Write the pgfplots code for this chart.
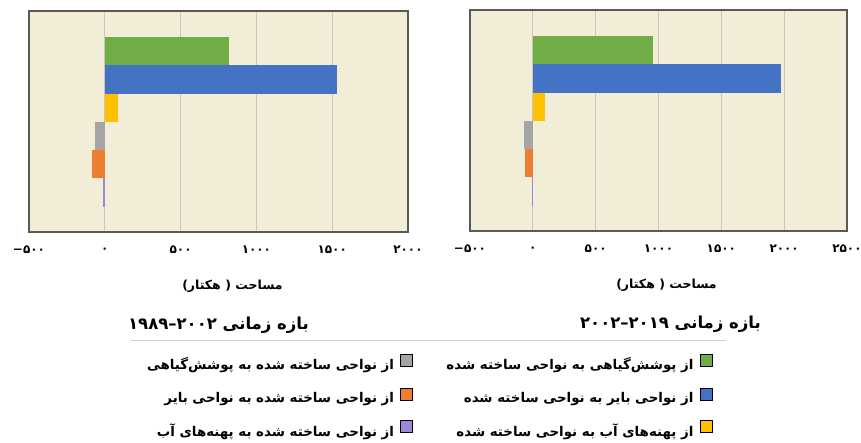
\documentclass[border=0pt]{standalone}
\usepackage{fontspec}
\usepackage{pgfplots}
\pgfplotsset{compat=1.18}
\TeXXeTstate=1
\newfontfamily\arabicfont[Script=Arabic]{DejaVu Sans}
\newcommand\fa{\arabicfont\bfseries}
\definecolor{cgreen}{HTML}{70AD47}
\definecolor{cblue}{HTML}{4472C4}
\definecolor{cyellow}{HTML}{FFC000}
\definecolor{cgray}{HTML}{A5A5A5}
\definecolor{corange}{HTML}{ED7D31}
\definecolor{cpurple}{HTML}{9B87D9}
\definecolor{bg}{HTML}{F2EDD7}
\definecolor{gridc}{HTML}{C9C7BC}
\definecolor{framec}{HTML}{5A5A52}
\pgfplotsset{
  panel/.style={
    scale only axis, anchor=south west, height=221pt,
    axis background/.style={fill=bg},
    axis line style={framec, line width=1.3pt},
    xmajorgrids, grid style={gridc, line width=0.8pt},
    major tick length=0pt, ytick=\empty,
    y dir=reverse, ymin=-0.42, ymax=7.4,
    xticklabel style={font=\fa\fontsize{12}{14}\selectfont, anchor=center, yshift=-18pt},
    xlabel style={font=\fa\fontsize{12.5}{15}\selectfont, at={(axis description cs:0.5,0)}, anchor=center, yshift=-54pt},
    title style={font=\fa\fontsize{16.5}{19}\selectfont, at={(axis description cs:0.5,0)}, anchor=center, yshift=-99pt},
    xlabel={\beginR مساحت ( هکتار)\endR},
  },
  bar/.style={xbar, bar shift=0pt, bar width=1, draw=none, forget plot},
}
\begin{document}
\begin{tikzpicture}
\path[use as bounding box] (0,0) rectangle (861pt,443pt);
% left panel 1989-2002
\begin{axis}[panel, at={(29pt,211pt)}, width=379pt,
  xmin=-500, xmax=2000, xtick={-500,0,500,1000,1500,2000},
  xticklabels={{\hbox{−}\hbox{۵۰۰}},۰,۵۰۰,۱۰۰۰,۱۵۰۰,۲۰۰۰},
  xlabel style={xshift=14pt},
  title={\beginR بازه زمانی \beginL\hbox{۱۹۸۹}\hbox{–}\hbox{۲۰۰۲}\endL\endR}]
\addplot[bar, fill=cgreen] coordinates {(816,1)};
\addplot[bar, fill=cblue] coordinates {(1533,2)};
\addplot[bar, fill=cyellow] coordinates {(86,3)};
\addplot[bar, fill=cgray] coordinates {(-63,4)};
\addplot[bar, fill=corange] coordinates {(-86,5)};
\addplot[bar, fill=cpurple] coordinates {(-12,6)};
\end{axis}
% right panel 2002-2019
\begin{axis}[panel, at={(470pt,212pt)}, width=377pt,
  xmin=-500, xmax=2500, xtick={-500,0,500,1000,1500,2000,2500},
  xticklabels={{\hbox{−}\hbox{۵۰۰}},۰,۵۰۰,۱۰۰۰,۱۵۰۰,۲۰۰۰,۲۵۰۰},
  xlabel style={xshift=8pt}, title style={xshift=12pt},
  title={\beginR بازه زمانی \beginL\hbox{۲۰۰۲}\hbox{–}\hbox{۲۰۱۹}\endL\endR},
  legend columns=2, legend plot pos=right, legend cell align=right,
  legend image code/.code={\fill[#1] (0pt,-2pt) rectangle (12pt,10pt);},
  legend style={name=leg, draw=none, fill=none, at={(axis description cs:-0.1101,-0.4932)}, anchor=north,
    font=\fa\fontsize{13.4}{16}\selectfont, inner xsep=13.5pt, inner ysep=14pt,
    column sep=4pt, /tikz/every even column/.append style={column sep=32pt},
    row sep=14.5pt},
  ]
\addplot[bar, fill=cgreen] coordinates {(955,1)};
\addplot[bar, fill=cblue] coordinates {(1974,2)};
\addplot[bar, fill=cyellow] coordinates {(93,3)};
\addplot[bar, fill=cgray] coordinates {(-72,4)};
\addplot[bar, fill=corange] coordinates {(-61,5)};
\addplot[bar, fill=cpurple] coordinates {(-10,6)};
\addlegendimage{fill=cgray}
\addlegendentry{\beginR از نواحی ساخته شده به پوشش‌گیاهی\endR}
\addlegendimage{fill=cgreen}
\addlegendentry{\beginR از پوشش‌گیاهی به نواحی ساخته شده\endR}
\addlegendimage{fill=corange}
\addlegendentry{\beginR از نواحی ساخته شده به نواحی بایر\endR}
\addlegendimage{fill=cblue}
\addlegendentry{\beginR از نواحی بایر به نواحی ساخته شده\endR}
\addlegendimage{fill=cpurple}
\addlegendentry{\beginR از نواحی ساخته شده به پهنه‌های آب\endR}
\addlegendimage{fill=cyellow}
\addlegendentry{\beginR از پهنه‌های آب به نواحی ساخته شده\endR}
\end{axis}
\draw[gray!35, line width=0.8pt] (leg.north west) -- (leg.north east);
\end{tikzpicture}
\end{document}
